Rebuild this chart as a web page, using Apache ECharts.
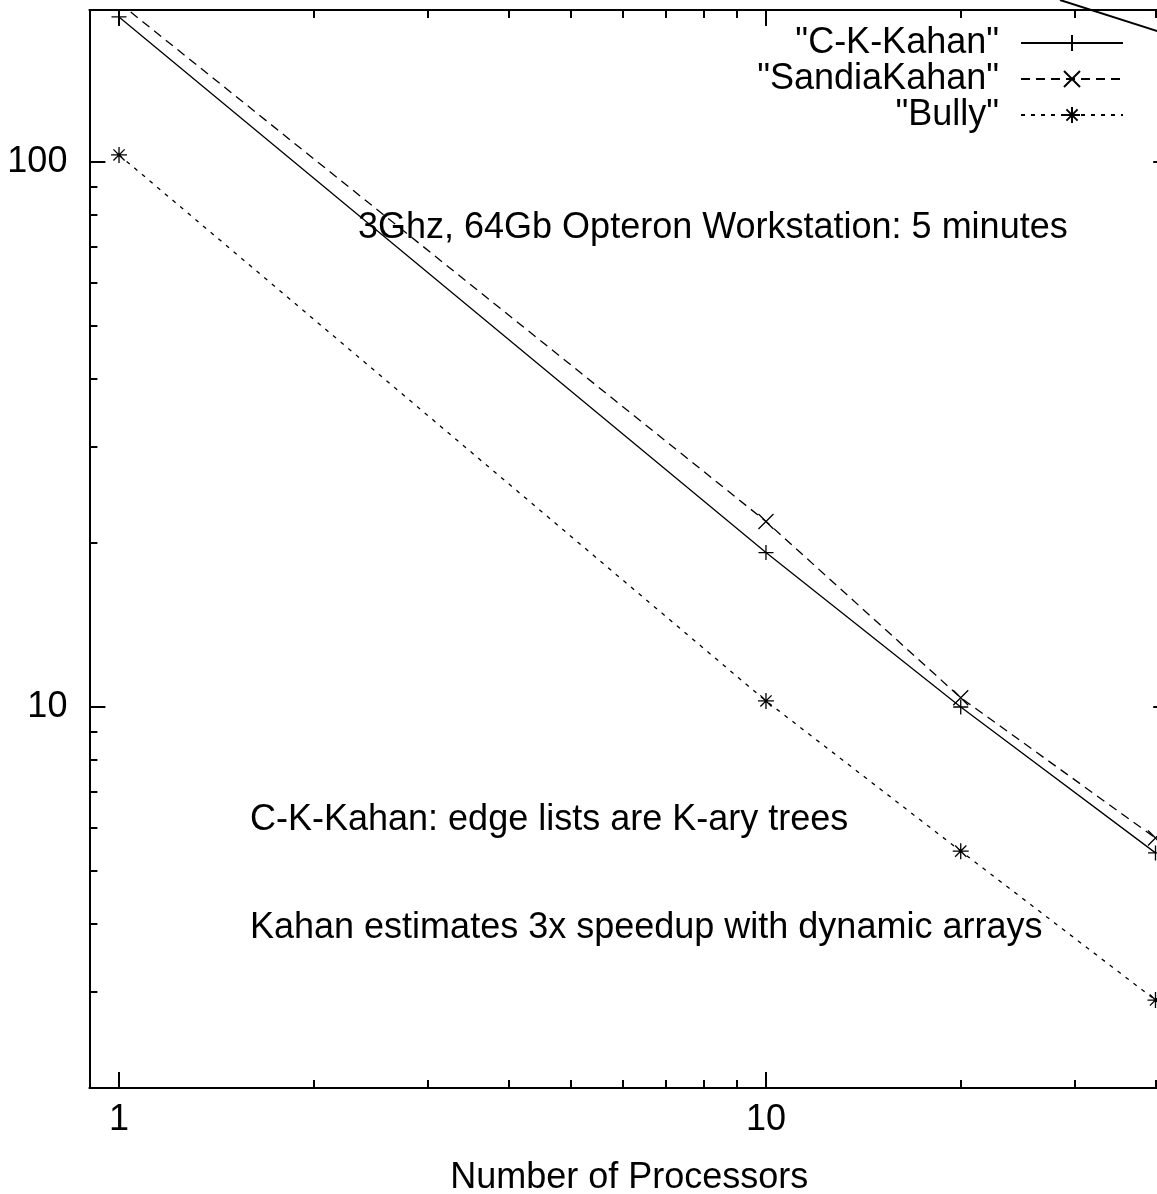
<!DOCTYPE html>
<html>
<head>
<meta charset="utf-8">
<script src="https://cdn.jsdelivr.net/npm/echarts@6/dist/echarts.min.js"></script>
<style>
  html, body { margin: 0; padding: 0; background: #fff; }
  #main { width: 1157px; height: 1194px; }
</style>
</head>
<body>
<div id="main"></div>
<script>
// processors on the x axis
var procs = [1, 10, 20, 40];
// run times
var ckKahan = [184.5, 19.2, 10.0, 5.40];
var sandiaKahan = [196, 21.9, 10.4, 5.75];
var bully = [103, 10.26, 5.44, 2.90];

var xMajor = [1, 10];
var xMinor = [2, 3, 4, 5, 6, 7, 8, 9, 20, 30, 40];
var yMajor = [10, 100];
var yMinor = [2, 3, 4, 5, 6, 7, 8, 9, 20, 30, 40, 50, 60, 70, 80, 90];

var FONT = 'Liberation Sans';
var FS = 36;

var chart = echarts.init(document.getElementById('main'), null, { renderer: 'canvas' });

function pairs(ys) {
  return procs.map(function (p, i) { return [p, ys[i]]; });
}

// one axis per tick set, all sharing the same range
function xAx(pos, ticks, len, labels, showLine) {
  return {
    type: 'log', logBase: 10, min: 0.9, max: 42, position: pos,
    axisLine: { show: showLine, lineStyle: { color: '#000', width: 2 } },
    axisTick: { show: true, inside: true, length: len, customValues: ticks,
      lineStyle: { color: '#000', width: 2 } },
    axisLabel: { show: !!labels, customValues: labels || [], margin: 14,
      color: '#000', fontSize: FS, fontFamily: FONT },
    splitLine: { show: false }, minorTick: { show: false }
  };
}
function yAx(pos, ticks, len, labels, showLine) {
  return {
    type: 'log', logBase: 10, min: 2, max: 190, position: pos,
    axisLine: { show: showLine, lineStyle: { color: '#000', width: 2 } },
    axisTick: { show: true, inside: true, length: len, customValues: ticks,
      lineStyle: { color: '#000', width: 2 } },
    axisLabel: { show: !!labels, customValues: labels || [], margin: 22,
      color: '#000', fontSize: FS, fontFamily: FONT },
    splitLine: { show: false }, minorTick: { show: false }
  };
}

var xMain = xAx('bottom', xMajor, 16, xMajor, true);
xMain.name = 'Number of Processors';
xMain.nameLocation = 'middle';
xMain.nameGap = 72;
xMain.nameTextStyle = { color: '#000', fontSize: FS, fontFamily: FONT };

var option = {
  animation: false,
  backgroundColor: '#fff',
  grid: { left: 89.4, top: 10, width: 1079.8, height: 1078,
    containLabel: false, outerBoundsMode: 'none' },
  xAxis: [
    xMain,
    xAx('bottom', xMinor, 8, null, false),
    xAx('top', xMajor, 16, null, true),
    xAx('top', xMinor, 8, null, false)
  ],
  yAxis: [
    yAx('left', yMajor, 16, yMajor, true),
    yAx('left', yMinor, 8, null, false),
    yAx('right', yMajor, 16, null, true),
    yAx('right', yMinor, 8, null, false)
  ],
  legend: {
    right: 33, top: 25, padding: 0, orient: 'vertical', align: 'right',
    itemWidth: 102, itemHeight: 20, itemGap: 0,
    textStyle: { color: '#000', fontSize: FS, fontFamily: FONT, lineHeight: 36,
      padding: [0, 17, 0, 0] },
    data: ['"C-K-Kahan"', '"SandiaKahan"', '"Bully"']
  },
  graphic: [
    { type: 'text', left: 358, top: 210,
      style: { text: '3Ghz, 64Gb Opteron Workstation: 5 minutes', fill: '#000', font: FS + 'px ' + FONT } },
    { type: 'text', left: 250, top: 802,
      style: { text: 'C-K-Kahan: edge lists are K-ary trees', fill: '#000', font: FS + 'px ' + FONT } },
    { type: 'text', left: 250, top: 910,
      style: { text: 'Kahan estimates 3x speedup with dynamic arrays', fill: '#000', font: FS + 'px ' + FONT } },
    { type: 'line', shape: { x1: 1060, y1: 0, x2: 1160, y2: 32 },
      style: { stroke: '#000', lineWidth: 2 } }
  ],
  series: [
    {
      name: '"C-K-Kahan"', type: 'line', data: pairs(ckKahan),
      symbol: 'path://M0,5L10,5M5,0L5,10', symbolSize: 15,
      itemStyle: { color: '#000', borderColor: '#000', borderWidth: 1.3 },
      lineStyle: { color: '#000', width: 1.3, type: 'solid' }
    },
    {
      name: '"SandiaKahan"', type: 'line', data: pairs(sandiaKahan),
      symbol: 'path://M0,0L10,10M10,0L0,10', symbolSize: 15,
      itemStyle: { color: '#000', borderColor: '#000', borderWidth: 1.3 },
      lineStyle: { color: '#000', width: 1.3, type: [9, 6] }
    },
    {
      name: '"Bully"', type: 'line', data: pairs(bully),
      symbol: 'path://M0,5L10,5M5,0L5,10M1.5,1.5L8.5,8.5M8.5,1.5L1.5,8.5', symbolSize: 16,
      itemStyle: { color: '#000', borderColor: '#000', borderWidth: 1.3 },
      lineStyle: { color: '#000', width: 1.3, type: [4, 6] }
    }
  ]
};

chart.setOption(option);
</script>
</body>
</html>
